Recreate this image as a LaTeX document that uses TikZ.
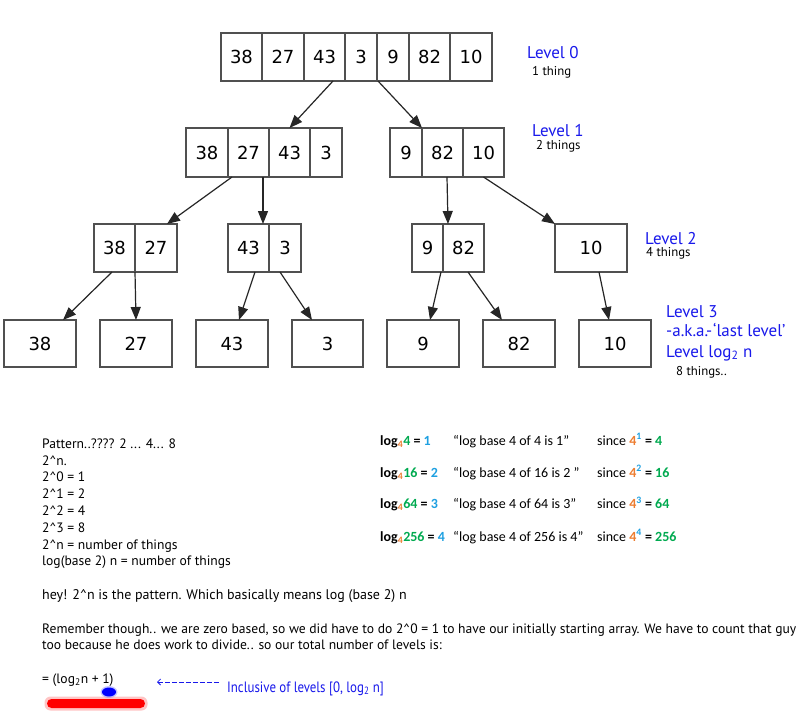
\documentclass[tikz,border=0pt]{standalone}
\usepackage{fontspec}
\setmainfont{PT Sans}
\newfontfamily\dvfont{DejaVu Sans}
\newfontfamily\calfont{Carlito}
\usetikzlibrary{arrows.meta,calc}
\definecolor{lvblue}{RGB}{25,25,235}
\definecolor{lorange}{RGB}{237,125,49}
\definecolor{lcyan}{RGB}{30,160,225}
\definecolor{lgreen}{RGB}{0,170,80}
\definecolor{boxgray}{RGB}{80,80,80}
\begin{document}
\begin{tikzpicture}[x=1pt,y=-1pt,
  cell/.style={draw=boxgray, line width=1.3pt, inner sep=0pt, outer sep=0pt, font=\dvfont\fontsize{18}{20}\selectfont},
  c0/.style={cell, minimum height=48pt},
  c1/.style={cell, minimum height=49pt},
  c2/.style={cell, minimum height=48pt},
  c3/.style={cell, minimum height=47pt, minimum width=72pt},
  edge/.style={draw=black!85, line width=1.2pt, -{Triangle[length=13pt,width=10pt]}},
  lvl/.style={text=lvblue, anchor=base west, inner sep=0pt, font=\fontsize{17}{20}\selectfont},
  things/.style={anchor=base west, inner sep=0pt, font=\fontsize{12.8}{14}\selectfont},
  txt/.style={anchor=base west, inner sep=0pt, font=\fontsize{13.6}{16}\selectfont},
  btxt/.style={anchor=base west, inner sep=0pt, font=\fontsize{14}{16}\selectfont},
  tab/.style={anchor=base west, inner sep=0pt, font=\calfont\fontsize{14}{16}\selectfont},
]
\useasboundingbox (0,0) rectangle (800,720);
\fill[white] (0,0) rectangle (800,720);

% Level 0
\node[c0, minimum width=41pt] (a1) at (241.5,57) {38};
\node[c0, minimum width=42pt] (a2) at (283,57) {27};
\node[c0, minimum width=41pt] (a3) at (324.5,57) {43};
\node[c0, minimum width=32pt] (a4) at (361,57) {3};
\node[c0, minimum width=32pt] (a5) at (393,57) {9};
\node[c0, minimum width=41pt] (a6) at (429.5,57) {82};
\node[c0, minimum width=42pt] (a7) at (471,57) {10};

% Level 1
\node[c1, minimum width=42pt] (b1) at (207,152.5) {38};
\node[c1, minimum width=41pt] (b2) at (248.5,152.5) {27};
\node[c1, minimum width=41pt] (b3) at (289.5,152.5) {43};
\node[c1, minimum width=32pt] (b4) at (326,152.5) {3};
\node[c1, minimum width=32pt] (b5) at (406,152.5) {9};
\node[c1, minimum width=41pt] (b6) at (442.5,152.5) {82};
\node[c1, minimum width=41pt] (b7) at (483.5,152.5) {10};

% Level 2
\node[c2, minimum width=41pt] (c1) at (114.5,248) {38};
\node[c2, minimum width=42pt] (c2) at (156,248) {27};
\node[c2, minimum width=41pt] (c3) at (248.5,248) {43};
\node[c2, minimum width=32pt] (c4) at (285,248) {3};
\node[c2, minimum width=31pt] (c5) at (427.5,248) {9};
\node[c2, minimum width=41pt] (c6) at (463.5,248) {82};
\node[c2, minimum width=72pt] (c7) at (591,248) {10};

% Level 3
\node[c3] (d1) at (40,343.5) {38};
\node[c3] (d2) at (136,343.5) {27};
\node[c3] (d3) at (232,343.5) {43};
\node[c3, minimum width=71pt] (d4) at (327.5,343.5) {3};
\node[c3] (d5) at (423,343.5) {9};
\node[c3] (d6) at (519,343.5) {82};
\node[c3] (d7) at (615,343.5) {10};

% Edges
\draw[edge] ([xshift=8.5pt]a3.south) -- (b3.north);
\draw[edge] ([xshift=1pt]a4.south east) -- (b5.north east);
\draw[edge] ([xshift=4pt]b2.south west) -- ([xshift=-10pt]c2.north east);
\draw[edge] ([xshift=-6pt]b3.south west) -- ([xshift=-6pt]c3.north east);
\draw[edge] ([xshift=4.5pt]b6.south) -- ([xshift=5pt]c6.north west);
\draw[edge] (b7.south) -- (c7.north west);
\draw[edge] ([xshift=-2.5pt]c1.south) -- ([xshift=23pt]d1.north);
\draw[edge] (c1.south east) -- (d2.north);
\draw[edge] ([xshift=6.5pt]c3.south) -- ([xshift=7pt]d3.north);
\draw[edge] ([xshift=-5pt]c4.south) -- ([xshift=-15.5pt]d4.north);
\draw[edge] ([xshift=13.5pt]c5.south) -- ([xshift=7pt]d5.north);
\draw[edge] ([xshift=4.5pt]c6.south) -- ([xshift=-17pt]d6.north);
\draw[edge] ([xshift=8pt]c7.south) -- ([xshift=-6pt]d7.north);

% Level labels
\node[lvl] (l0) at (527,58) {Level 0};
\node[things] (n0) at (532,75) {1 thing};
\node[lvl] (l1) at (532,136) {Level 1};
\node[things] (n1) at (536,149) {2 things};
\node[lvl] (l2) at (645,244) {Level 2};
\node[things] (n2) at (646,256.5) {4 things};
\node[lvl] (l3) at (666,317) {Level 3};
\node[lvl] (l3b) at (666,336) {-a.k.a.-\kern1pt‘last level’};
\node[lvl] (l3c) at (666,357) {Level log\textsubscript{2} n};
\node[things] (n3) at (676,375) {8 things..};

% Pattern block
\node[txt] (t1) at (42,448) {Pattern..???? 2 ... 4... 8};
\node[txt] (t2) at (42,465) {2\textasciicircum n.};
\node[txt] (t3) at (42,481.5) {2\textasciicircum 0 = 1};
\node[txt] (t4) at (42,498.5) {2\textasciicircum 1 = 2};
\node[txt] (t5) at (42,515) {2\textasciicircum 2 = 4};
\node[txt] (t6) at (42,532) {2\textasciicircum 3 = 8};
\node[txt] (t7) at (42,549) {2\textasciicircum n = number of things};
\node[txt] (t8) at (42,565.5) {log(base 2) n = number of things};

% log table
\node[tab] (r1a) at (380,445) {\bfseries log\textsubscript{\textcolor{lorange}{4}}\textcolor{lgreen}{4} = \textcolor{lcyan}{1}};
\node[tab] (r1b) at (453,445) {“log base 4 of 4 is 1”};
\node[tab] (r1c) at (597,445) {since \textbf{\textcolor{lorange}{4}\textsuperscript{\textcolor{lcyan}{1}} = \textcolor{lgreen}{4}}};
\node[tab] (r2a) at (380,477) {\bfseries log\textsubscript{\textcolor{lorange}{4}}\textcolor{lgreen}{16} = \textcolor{lcyan}{2}};
\node[tab] (r2b) at (453,477) {“log base 4 of 16 is 2 ”};
\node[tab] (r2c) at (597,477) {since \textbf{\textcolor{lorange}{4}\textsuperscript{\textcolor{lcyan}{2}} = \textcolor{lgreen}{16}}};
\node[tab] (r3a) at (380,508.5) {\bfseries log\textsubscript{\textcolor{lorange}{4}}\textcolor{lgreen}{64} = \textcolor{lcyan}{3}};
\node[tab] (r3b) at (453,508.5) {“log base 4 of 64 is 3”};
\node[tab] (r3c) at (597,508.5) {since \textbf{\textcolor{lorange}{4}\textsuperscript{\textcolor{lcyan}{3}} = \textcolor{lgreen}{64}}};
\node[tab] (r4a) at (380,541) {\bfseries log\textsubscript{\textcolor{lorange}{4}}\textcolor{lgreen}{256} = \textcolor{lcyan}{4}};
\node[tab] (r4b) at (453,541) {“log base 4 of 256 is 4”};
\node[tab] (r4c) at (597,541) {since \textbf{\textcolor{lorange}{4}\textsuperscript{\textcolor{lcyan}{4}} = \textcolor{lgreen}{256}}};

% Bottom text
\node[btxt] (h1) at (42,599) {hey! 2\textasciicircum n is the pattern. Which basically means log (base 2) n};
\node[txt] (h2) at (42,633) {Remember though.. we are zero based, so we did have to do 2\textasciicircum 0 = 1 to have our initially starting array. We have to count that guy};
\node[txt] (h3) at (42,649) {too because he does work to divide.. so our total number of levels is:};
\node[txt] (h4) at (42,683) {= (log\textsubscript{2}n + 1)};

\coordinate (ar1) at (157,682);
\coordinate (ar2) at (220,682);
\draw[lvblue, line width=0.8pt, dash pattern=on 5pt off 2pt, {Straight Barb[length=3pt,width=6pt]}-] (ar1) -- (ar2);
\node[anchor=base west, inner sep=0pt, text=lvblue, font=\fontsize{15}{17}\selectfont, xscale=0.86, transform shape] (inc) at (227,692.3) {Inclusive of levels [0, log\textsubscript{2} n]};

% highlights
\fill[red!50!white, opacity=0.45, rounded corners=6pt] (44.5,696.5) rectangle (147.5,710.5);
\fill[red, rounded corners=4.5pt] (47,699) rectangle (145,708);
\fill[blue!50!white, opacity=0.45] (109,692) ellipse [x radius=8.5pt, y radius=6pt];
\fill[blue] (109,692) ellipse [x radius=7pt, y radius=4.5pt];
\end{tikzpicture}
\end{document}
